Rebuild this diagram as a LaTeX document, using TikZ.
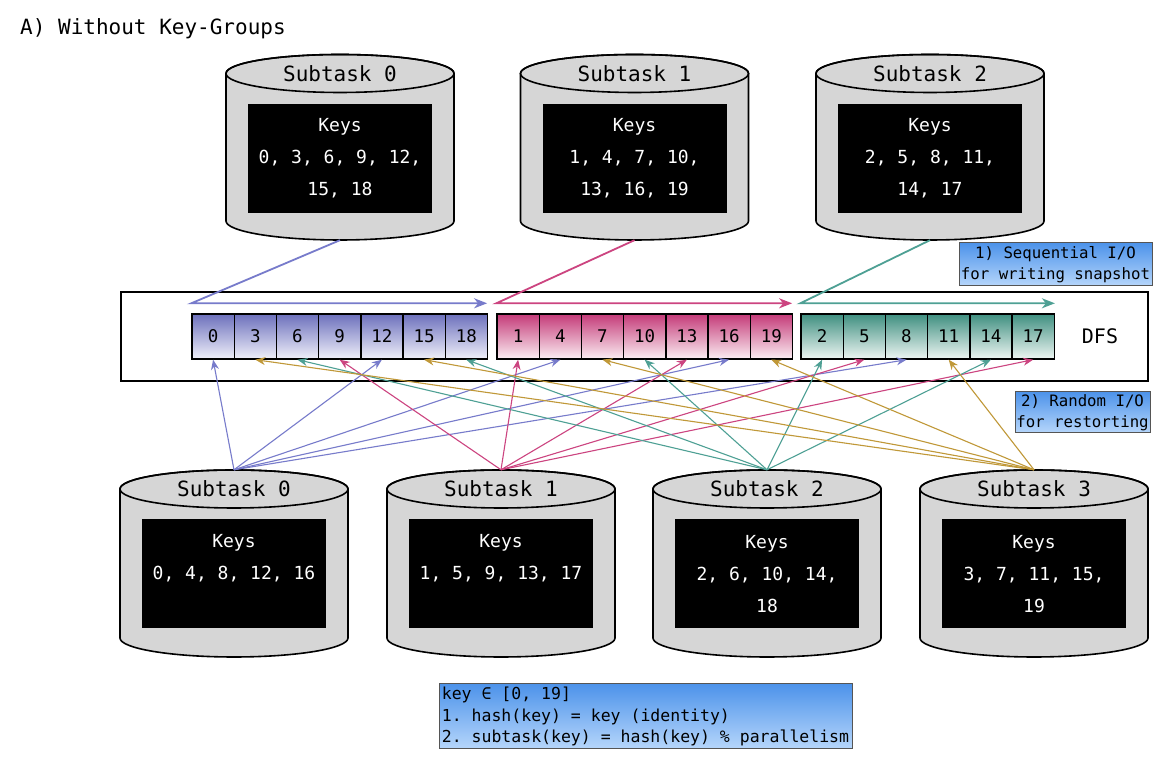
\documentclass[tikz,border=0pt]{standalone}
\usepackage{fontspec}
\setmainfont{DejaVu Sans Mono}
\usetikzlibrary{arrows.meta,calc}
\frenchspacing
\definecolor{cylgray}{HTML}{D6D6D6}
\definecolor{blueline}{HTML}{777BCB}
\definecolor{pinkline}{HTML}{CC4480}
\definecolor{tealline}{HTML}{4EA094}
\definecolor{goldline}{HTML}{C09838}
\definecolor{cellbtop}{HTML}{6C70BC}
\definecolor{cellbbot}{HTML}{F0F0FA}
\definecolor{cellptop}{HTML}{C43A78}
\definecolor{cellpbot}{HTML}{FBEEF3}
\definecolor{celltop}{HTML}{3F8F80}
\definecolor{celltbot}{HTML}{EEF6F3}
\definecolor{notetop}{HTML}{4D93EA}
\definecolor{notebot}{HTML}{B6D6FB}
\definecolor{notedraw}{HTML}{555555}

\newcommand{\mycyl}[6]{% name, cx, ellipse centre y, bottom y, title, keys
  \path[cylbody] ({#2-114},{#3}) -- ({#2-114},{#4+19})
    arc[start angle=180,end angle=360,x radius=114pt,y radius=19pt]
    -- ({#2+114},{#3})
    arc[start angle=0,end angle=180,x radius=114pt,y radius=19pt] -- cycle;
  \draw[cylline] ({#2},{#3}) ellipse[x radius=114pt,y radius=19pt];
  \node[cylanchor, minimum height={#3+19-(#4)}] (#1) at ({#2},{(#3+19+#4)/2}) {};
  \node[cyltitle] (#1title) at ({#2},{#3}) {#5};
  \node[keybox] (#1keys) at ({#2},{#3-85}) {#6};
}

\begin{document}
\begin{tikzpicture}[x=1pt,y=1pt,
  cylbody/.style={fill=cylgray, draw=black, line width=1.6pt},
  cylline/.style={draw=black, line width=1.6pt},
  cylanchor/.style={inner sep=0pt, minimum width=228pt},
  cyltitle/.style={font=\fontsize{21}{25}\selectfont, inner sep=0pt},
  keybox/.style={fill=black, text=white, minimum width=184pt, minimum height=109pt,
    align=center, font=\fontsize{18}{32}\selectfont, inner sep=0pt},
  cell/.style={draw=black, line width=1.4pt, minimum width=42.2pt, minimum height=45pt,
    inner sep=0pt, font=\fontsize{17.5}{20}\selectfont},
  cellb/.style={cell, top color=cellbtop, bottom color=cellbbot},
  cellp/.style={cell, top color=cellptop, bottom color=cellpbot},
  cellt/.style={cell, top color=celltop, bottom color=celltbot},
  darrow/.style={line width=1.1pt, -{Stealth[length=10pt,width=8pt]}},
  harrow/.style={line width=1.8pt, -{Stealth[length=13pt,width=10pt,inset=4pt]}},
  note/.style={draw=notedraw, line width=1pt, top color=notetop, bottom color=notebot,
    inner sep=0pt},
]
\useasboundingbox (0,0) rectangle (1176,762);
\fill[white] (0,0) rectangle (1176,762);

\node[anchor=west, inner sep=0pt, font=\fontsize{21}{25}\selectfont] (title) at (20,733) {A) Without Key-Groups};

% top cylinders
\mycyl{t0}{340}{688.5}{522}{Subtask 0}{Keys\\0, 3, 6, 9, 12,\\15, 18}
\mycyl{t1}{634.5}{688.5}{522}{Subtask 1}{Keys\\1, 4, 7, 10,\\13, 16, 19}
\mycyl{t2}{930}{688.5}{522}{Subtask 2}{Keys\\2, 5, 8, 11,\\14, 17}

% bottom cylinders
\mycyl{b0}{234}{273}{105}{Subtask 0}{Keys\\0, 4, 8, 12, 16\\\vphantom{0,}}
\mycyl{b1}{501}{273}{105}{Subtask 1}{Keys\\1, 5, 9, 13, 17\\\vphantom{0,}}
\mycyl{b2}{767}{273}{105}{Subtask 2}{Keys\\2, 6, 10, 14,\\18}
\mycyl{b3}{1034}{273}{105}{Subtask 3}{Keys\\3, 7, 11, 15,\\19}

% DFS
\node[draw=black, line width=1.5pt, minimum width=1027pt, minimum height=89pt, inner sep=0pt] (dfs) at (634.5,425.5) {};
\node[inner sep=0pt, font=\fontsize{20}{24}\selectfont] (dfslabel) at (1100,425.5) {DFS};

\foreach \k [count=\i from 0] in {0,3,6,9,12,15,18}
  \node[cellb] (c\k) at ({192+42.2*(\i+0.5)},425.5) {\k};
\foreach \k [count=\i from 0] in {1,4,7,10,13,16,19}
  \node[cellp] (c\k) at ({497+42.2*(\i+0.5)},425.5) {\k};
\foreach \k [count=\i from 0] in {2,5,8,11,14,17}
  \node[cellt] (c\k) at ({801+42.2*(\i+0.5)},425.5) {\k};

% sequential writes
\coordinate (sb) at ($(c0.north west)+(0,10)$);
\coordinate (eb) at ($(c18.north east)+(-1,10)$);
\coordinate (sp) at ($(c1.north west)+(0,10)$);
\coordinate (ep) at ($(c19.north east)+(-1,10)$);
\coordinate (st) at ($(c2.north west)+(0,10)$);
\coordinate (et) at ($(c17.north east)+(0,10)$);
\draw[harrow, blueline] (t0.south) -- (sb) -- (eb);
\draw[harrow, pinkline] (t1.south) -- (sp) -- (ep);
\draw[harrow, tealline] (t2.south) -- (st) -- (et);

% random reads
\foreach \k in {0,4,8,12,16} \draw[darrow, blueline] (b0.north) -- (c\k.south);
\foreach \k in {1,5,9,13,17} \draw[darrow, pinkline] (b1.north) -- (c\k.south);
\foreach \k in {2,6,10,14,18} \draw[darrow, tealline] (b2.north) -- (c\k.south);
\foreach \k in {3,7,11,15,19} \draw[darrow, goldline] (b3.north) -- (c\k.south);

% notes
\node[note, minimum width=193pt, minimum height=43pt, align=center,
  font=\fontsize{15.7}{21}\selectfont] (seq) at (1055.5,497.5) {1) Sequential I/O\\for writing snapshot};
\node[note, minimum width=135pt, minimum height=41pt, align=center,
  font=\fontsize{15.7}{21}\selectfont] (rnd) at (1082.5,349.5) {2) Random I/O\\for restorting};
\node[note, minimum width=413pt, minimum height=65pt, align=left,
  font=\fontsize{16.5}{21.7}\selectfont\frenchspacing] (legend) at (645.5,45.5)
  {key ∈ [0, 19]\\1. hash(key) = key (identity)\\2. subtask(key) = hash(key) \% parallelism};
\end{tikzpicture}
\end{document}
